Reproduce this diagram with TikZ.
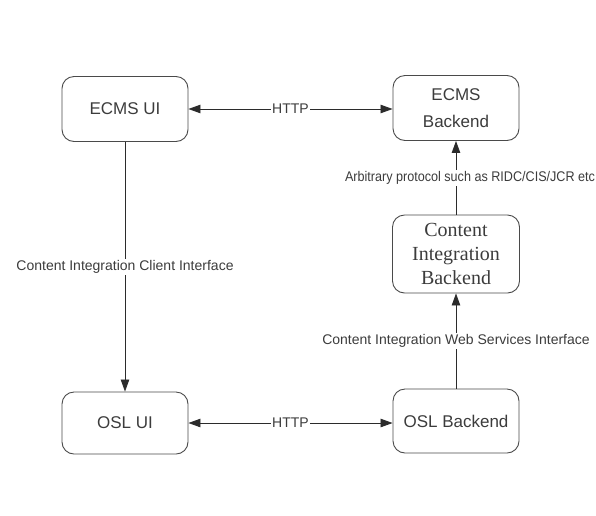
\documentclass[tikz,border=0pt]{standalone}
\usepackage{fontspec}
\usepackage{graphicx}
\usetikzlibrary{arrows.meta}
\setmainfont{Liberation Sans}
\newfontfamily\timesfont{Liberation Serif}
\definecolor{boxgray}{HTML}{4a4a4a}
\definecolor{linegray}{HTML}{2b2b2b}
\definecolor{textgray}{HTML}{3c3c3c}

\begin{document}
\begin{tikzpicture}[x=1pt,y=-1pt,
  >={Triangle[length=12pt,width=8.5pt]},
  box/.style={draw=boxgray,line width=0.9pt,rounded corners=12pt,minimum width=126pt,
    minimum height=65pt,inner sep=0pt,align=center,text=textgray,
    font=\fontsize{17}{27}\selectfont},
  link/.style={draw=linegray,line width=0.8pt},
  elabel/.style={fill=white,text=textgray,inner sep=1.5pt,font=\fontsize{14}{16}\selectfont}]
\useasboundingbox (0,0) rectangle (596,515);

% Boxes
\node[box] (ecmsui) at (125,109) {ECMS UI};
\node[box] (ecmsbe) at (456,108) {ECMS\\Backend};
\node[box,minimum width=127pt,minimum height=78pt,
  font=\timesfont\fontsize{20}{24}\selectfont] (cibe) at (456,254) {Content\\Integration\\Backend};
\node[box,minimum height=62pt] (oslui) at (125,423) {OSL UI};
\node[box,minimum height=64pt] (oslbe) at (456,421) {OSL Backend};

% HTTP links
\draw[link,<->] (ecmsui.east) -- node[elabel] {HTTP} (ecmsui.east -| ecmsbe.west);
\draw[link,<->] (oslui.east) -- node[elabel] {HTTP} (oslui.east -| oslbe.west);

% Client side
\draw[link,->] (ecmsui) -- node[elabel] {Content Integration Client Interface} (oslui);

% Backend side
\draw[link,->] (oslbe) -- node[elabel] {Content Integration Web Services Interface} (cibe);
\draw[link,->] (cibe) -- node[elabel,xshift=14pt]
  {\scalebox{0.9}[1]{Arbitrary protocol such as RIDC/CIS/JCR etc}} (ecmsbe);
\end{tikzpicture}
\end{document}
